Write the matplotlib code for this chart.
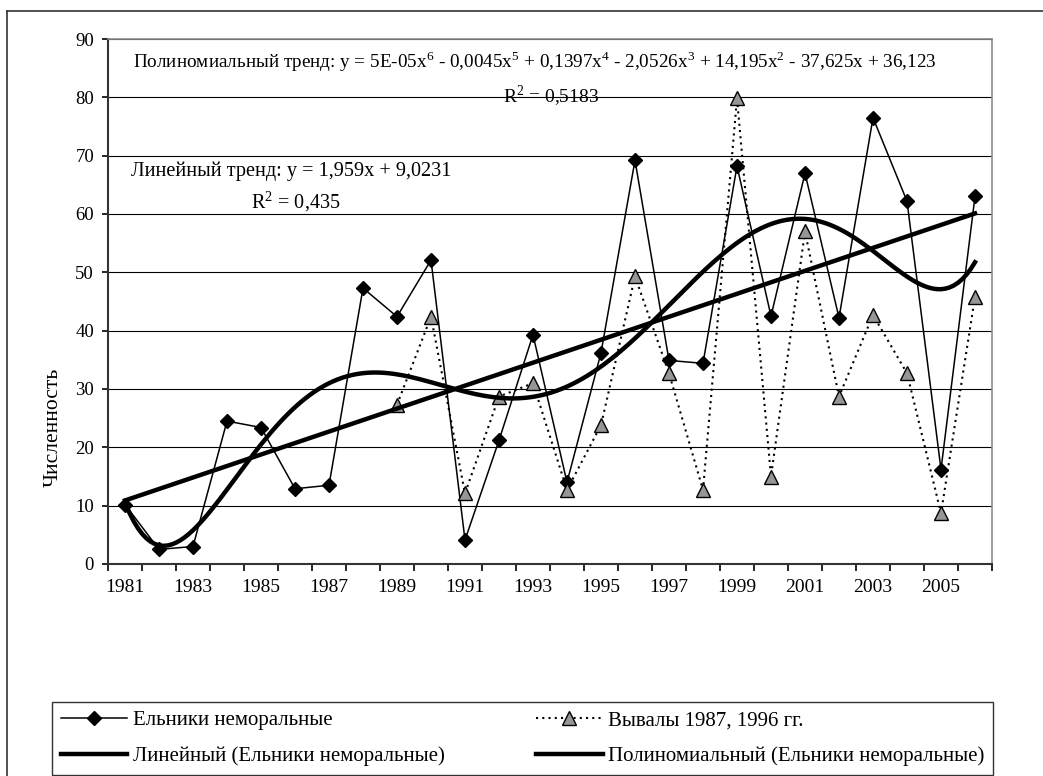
import numpy as np
import matplotlib
matplotlib.use("Agg")
import matplotlib.pyplot as plt
from matplotlib.lines import Line2D

plt.rcParams["font.family"] = ["Liberation Serif", "DejaVu Serif"]
plt.rcParams["mathtext.fontset"] = "custom"
plt.rcParams["mathtext.rm"] = "Liberation Serif"

# data
years = list(range(1981, 2007))
yelniki = [10.2, 2.5, 3.0, 24.5, 23.4, 12.9, 13.5, 47.3, 42.4, 52.1,
           4.1, 21.2, 39.3, 14.0, 36.2, 69.2, 34.9, 34.4, 68.2, 42.5,
           67.0, 42.2, 76.5, 62.2, 16.2, 63.0]
vyvaly = [np.nan] * 8 + [27.3, 42.4, 12.1, 28.7, 31.0, 12.7, 23.8, 49.3,
                         32.7, 12.7, 79.8, 15.0, 57.0, 28.7, 42.7, 32.7,
                         8.7, 45.8]

lbl_yel = "Ельники неморальные"
lbl_vyv = "Вывалы 1987, 1996 гг."
lbl_lin = "Линейный (Ельники неморальные)"
lbl_pol = "Полиномиальный (Ельники неморальные)"

poly_text = ("Полиномиальный тренд: y = 5E-05x$^{6}$ - 0,0045x$^{5}$ + 0,1397x$^{4}$"
             " - 2,0526x$^{3}$ + 14,195x$^{2}$ - 37,625x + 36,123")
lin_text = "Линейный тренд: y = 1,959x + 9,0231"

# trend lines, fitted like excel does (x = 1..26)
xn = np.arange(1, len(years) + 1)
lin_c = np.polyfit(xn, yelniki, 1)
pol_c = np.polyfit(xn, yelniki, 6)
xs = np.linspace(1, len(years), 200)

W, H = 1043, 776
fig = plt.figure(figsize=(W / 100, H / 100), dpi=100)
ax = fig.add_axes([108 / W, 1 - 564 / H, 884 / W, 525 / H])

x = np.arange(len(years))
h1, = ax.plot(x, yelniki, color="black", lw=1.1, marker="D", ms=7, label=lbl_yel)
h2, = ax.plot(x, vyvaly, color="black", lw=1.5, ls=(0, (1, 2)), marker="^", ms=10,
              mfc="#969696", mec="black", mew=1, label=lbl_vyv)
h3, = ax.plot(xn - 1, np.polyval(lin_c, xn), color="black", lw=3.2, label=lbl_lin)
h4, = ax.plot(xs - 1, np.polyval(pol_c, xs), color="black", lw=3.2, label=lbl_pol)

ax.set_xlim(-0.5, len(years) - 0.5)
ax.set_ylim(0, 90)
ax.set_yticks(range(0, 91, 10))
ax.set_xticks(x[::2])
ax.set_xticklabels([str(y) for y in years[::2]])
ax.set_xticks(np.arange(-0.5, len(years), 1), minor=True)
ax.tick_params(axis="x", which="major", length=0, pad=11, labelsize=14)
ax.tick_params(axis="x", which="minor", length=5, width=1.2, direction="out")
ax.tick_params(axis="y", length=4, width=1.2, direction="out", pad=6, labelsize=13.5)

ax.set_axisbelow(True)
ax.yaxis.grid(True, color="black", lw=0.8)
for s in ["left", "bottom"]:
    ax.spines[s].set_color("#333333")
    ax.spines[s].set_linewidth(1.5)
for s in ["top", "right"]:
    ax.spines[s].set_color("#8c8c8c")
    ax.spines[s].set_linewidth(1.2)

# equations
fig.text(133 / W, 1 - 68 / H, poly_text, fontsize=13.8, va="baseline")
fig.text(503 / W, 1 - 103 / H, "R$^{2}$ = 0,5183", fontsize=14, va="baseline")
fig.text(131 / W, 1 - 176 / H, lin_text, fontsize=14.6, va="baseline")
fig.text(251 / W, 1 - 208 / H, "R$^{2}$ = 0,435", fontsize=14.6, va="baseline")

fig.text(53 / W, 1 - 427 / H, "Численность", rotation=90, ha="center",
         va="center", fontsize=15.5)

# outer chart frame (cut at right and bottom)
fig.add_artist(Line2D([7 / W, 1], [1 - 11 / H, 1 - 11 / H], transform=fig.transFigure,
                      color="#333333", lw=1.2))
fig.add_artist(Line2D([7 / W, 7 / W], [0, 1 - 11 / H], transform=fig.transFigure,
                      color="#333333", lw=1.2))

leg = fig.legend([h1, h3, h2, h4], [lbl_yel, lbl_lin, lbl_vyv, lbl_pol], ncol=2,
                 loc="lower left", bbox_to_anchor=(52 / W, 1 / H, 941 / W, 74 / H),
                 mode="expand", fontsize=15, frameon=True, fancybox=False,
                 edgecolor="black", handlelength=3.2, handletextpad=0.25,
                 labelspacing=0.79, borderpad=0.42, borderaxespad=0)
leg.get_frame().set_linewidth(1.0)

fig.savefig("out.png", dpi=100)
